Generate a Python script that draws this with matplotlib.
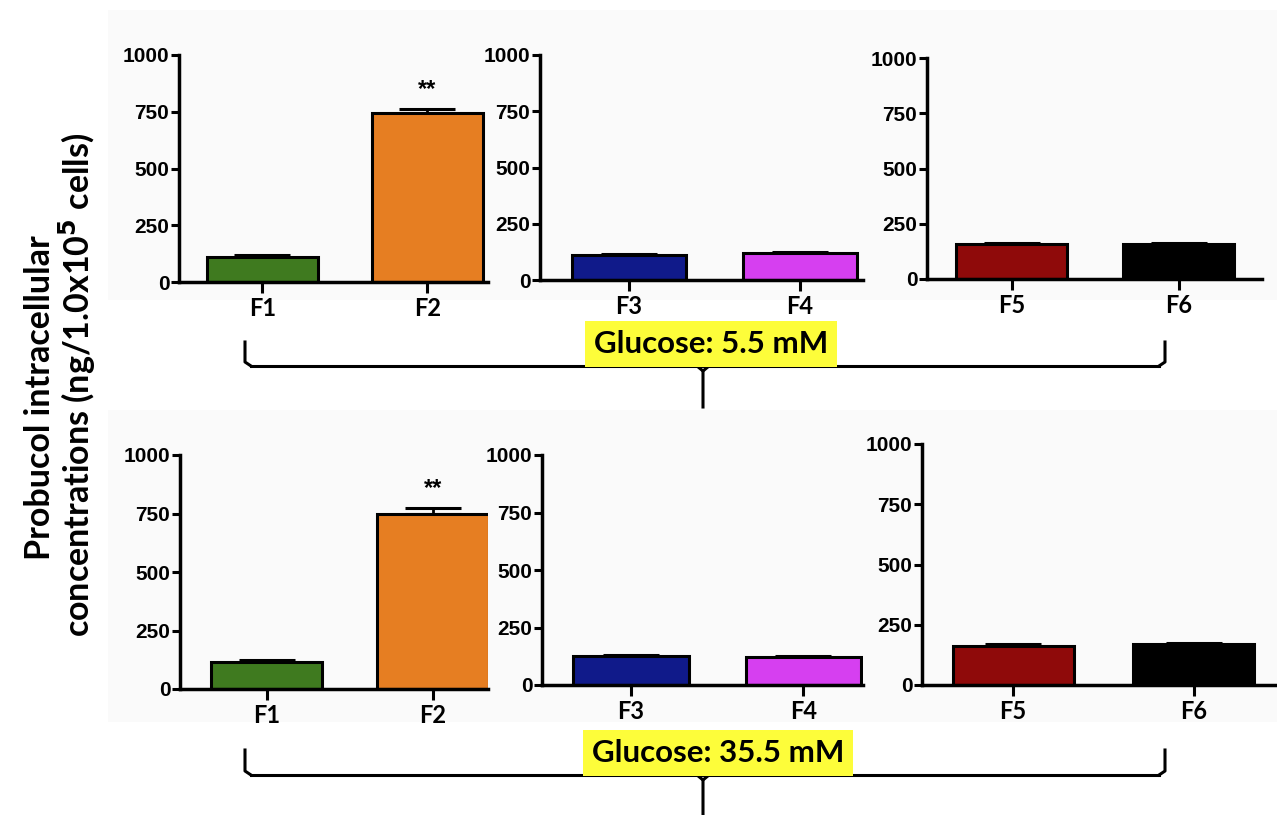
import matplotlib.pyplot as plt
from matplotlib.lines import Line2D
from matplotlib.patches import Rectangle

# --- Data ---
LABELS = [["F1", "F2"], ["F3", "F4"], ["F5", "F6"]]
COLORS = [["#3f7a1f", "#e67e22"], ["#101a8a", "#d63ff0"], ["#8f0a0a", "#000000"]]
LOW_GLUCOSE_MEAN = [[112, 745], [110, 118], [158, 158]]
LOW_GLUCOSE_SEM = [[8, 17], [6, 7], [3, 3]]
HIGH_GLUCOSE_MEAN = [[115, 750], [125, 122], [162, 170]]
HIGH_GLUCOSE_SEM = [[8, 22], [4, 4], [7, 5]]
SIGNIF = [["", "**"], ["", ""], ["", ""]]
GROUP_TITLES = ["Glucose: 5.5 mM", "Glucose: 35.5 mM"]
YTICKS = [0, 250, 500, 750, 1000]

W, H = 1277, 815
TEXT_FONT = "Lato"
TICK_FONT = "Liberation Sans"

# panel boxes in pixels: (left, right, top(y=1000), bottom(y=0)), plus xlim
PANELS = [
    [(179, 488, 55, 282, (-0.506, 1.367)),
     (540, 863, 55, 280, (-0.52, 1.37)),
     (927, 1262, 58, 279, (-0.506, 1.5))],
    [(180, 488, 455, 689, (-0.52, 1.33)),
     (542, 863, 455, 685, (-0.516, 1.345)),
     (922, 1275, 444, 685, (-0.504, 1.45))],
]
BRACKETS = [(245, 1165, 342, 366, 407, 703), (245, 1165, 750, 775, 815, 703)]
BOX_CENTERS = [(711, 344), (718, 753)]
BACKDROPS = [(108, 10, 1277, 300), (108, 410, 1277, 722)]


def fx(px):
    return px / W


def fy(py):
    return 1 - py / H


def draw_panel(fig, box, labels, colors, means, sems, marks):
    left, right, top, bottom, xlim = box
    ax = fig.add_axes([fx(left), fy(bottom), fx(right) - fx(left), fy(top) - fy(bottom)])
    xs = list(range(len(labels)))
    ax.bar(xs, means, width=0.67, color=colors, edgecolor="black", linewidth=2.2, zorder=2)
    ax.errorbar(xs, means, yerr=[[0] * len(sems), sems], fmt="none", ecolor="black",
                elinewidth=2, capsize=20, capthick=2.2, zorder=1)
    for x, m, s, mark in zip(xs, means, sems, marks):
        if mark:
            ax.text(x, m + s + 35, mark, ha="center", va="bottom", fontsize=17,
                    fontweight="bold", family=TICK_FONT)
    ax.set_xlim(*xlim)
    ax.set_ylim(0, 1000)
    ax.set_yticks(YTICKS)
    ax.set_yticklabels([str(t) for t in YTICKS], fontsize=15, fontweight="bold",
                       family=TICK_FONT)
    ax.set_xticks(xs)
    ax.set_xticklabels(labels, fontsize=17, fontweight="bold", family=TEXT_FONT)
    ax.tick_params(axis="y", length=6, width=2.2, pad=1)
    ax.tick_params(axis="x", length=8, width=2.2, pad=3)
    for side in ("top", "right"):
        ax.spines[side].set_visible(False)
    for side in ("left", "bottom"):
        ax.spines[side].set_linewidth(2.5)
    ax.patch.set_alpha(0)
    return ax


def draw_bracket(fig, spec):
    x0, x1, y_top, y_line, y_stem, x_mid = spec
    kw = dict(color="black", linewidth=2.2, transform=fig.transFigure)
    fig.add_artist(Line2D([fx(x0), fx(x0), fx(x0 + 6)], [fy(y_top), fy(y_line - 4), fy(y_line)], **kw))
    fig.add_artist(Line2D([fx(x0 + 6), fx(x1 - 6)], [fy(y_line), fy(y_line)], **kw))
    fig.add_artist(Line2D([fx(x1), fx(x1), fx(x1 - 6)], [fy(y_top), fy(y_line - 4), fy(y_line)], **kw))
    fig.add_artist(Line2D([fx(x_mid - 6), fx(x_mid), fx(x_mid)],
                          [fy(y_line), fy(y_line + 5), fy(y_stem)], **kw))
    fig.add_artist(Line2D([fx(x_mid + 6), fx(x_mid)], [fy(y_line), fy(y_line + 5)], **kw))


def main() -> None:
    fig = plt.figure(figsize=(W / 100, H / 100), dpi=100)
    fig.patch.set_facecolor("white")

    # very faint grey backdrop behind the panel blocks
    for x0, y0, x1, y1 in BACKDROPS:
        fig.add_artist(Rectangle((fx(x0), fy(y1)), fx(x1) - fx(x0), fy(y0) - fy(y1),
                                 transform=fig.transFigure, facecolor="#fafafa",
                                 edgecolor="none", zorder=-5))

    for row, (means_row, sems_row) in enumerate(
        [(LOW_GLUCOSE_MEAN, LOW_GLUCOSE_SEM), (HIGH_GLUCOSE_MEAN, HIGH_GLUCOSE_SEM)]
    ):
        for col in range(3):
            draw_panel(fig, PANELS[row][col], LABELS[col], COLORS[col],
                       means_row[col], sems_row[col], SIGNIF[col])

    for spec, (cx, cy), title in zip(BRACKETS, BOX_CENTERS, GROUP_TITLES):
        draw_bracket(fig, spec)
        fig.text(fx(cx), fy(cy), title, ha="center", va="center", fontsize=22.5,
                 fontweight="bold", family=TEXT_FONT, zorder=5,
                 bbox=dict(boxstyle="square,pad=0.28", facecolor="#fdfd3a", edgecolor="none"))

    fig.text(fx(40), fy(398), "Probucol intracellular", rotation=90, ha="center",
             va="center", fontsize=24.5, fontweight="bold", family=TEXT_FONT)
    fig.text(fx(77), fy(385), r"concentrations (ng/1.0x10$^{\mathbf{5}}$ cells)", rotation=90,
             ha="center", va="center", fontsize=24.5, fontweight="bold", family=TEXT_FONT)

    fig.savefig("out.png", dpi=100)
    plt.close(fig)


if __name__ == "__main__":
    main()
